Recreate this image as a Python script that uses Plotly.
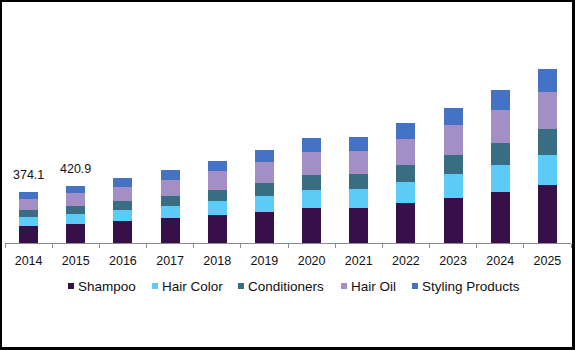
import plotly.graph_objects as go

years = ["2014", "2015", "2016", "2017", "2018", "2019", "2020", "2021", "2022", "2023", "2024", "2025"]
shampoo = [125, 142, 162, 184, 206, 228, 258, 258, 294, 331, 375, 427]
hair_color = [66, 71, 81, 88, 103, 118, 132, 140, 155, 177, 199, 221]
conditioners = [51, 59, 66, 74, 81, 96, 110, 110, 125, 140, 162, 191]
hair_oil = [81, 96, 103, 118, 140, 155, 169, 169, 191, 221, 243, 272]
styling = [51.1, 52.9, 66, 74, 74, 88, 103, 103, 118, 125, 147, 169]
labeled_years = ["2014", "2015"]

series_names = ["Shampoo", "Hair Color", "Conditioners", "Hair Oil", "Styling Products"]
series_values = [shampoo, hair_color, conditioners, hair_oil, styling]
colors = ["#37104a", "#5ccbf7", "#386d82", "#a38fc5", "#4472c4"]

W, H = 575, 350
L, R, T, B = 5, 4, 20, 107
pw, ph = W - L - R, H - T - B

def px(x):
    return (x - L) / pw

def py(y):
    return (H - B - y) / ph

FONT = "Liberation Sans, Arial"
fig = go.Figure()
for name, vals, col in zip(series_names, series_values, colors):
    fig.add_trace(go.Bar(x=years, y=vals, name=name, marker=dict(color=col, line=dict(width=0)),
                         showlegend=False))

totals = [sum(v) for v in zip(*series_values)]
annotations = []
for i, (yr, tot) in enumerate(zip(years, totals)):
    if yr in labeled_years:
        annotations.append(dict(xref="x", yref="y", x=i, y=tot, text=f"{tot:.1f}", showarrow=False,
                                yshift=17, font=dict(family=FONT, size=12.5, color="#111111")))

# manual legend
shapes = []
legend_x = [68, 152, 238, 341, 412]
legend_y = 286
for name, col, lx in zip(series_names, colors, legend_x):
    shapes.append(dict(type="rect", xref="paper", yref="paper", x0=px(lx), x1=px(lx + 6),
                       y0=py(legend_y + 3), y1=py(legend_y - 3), fillcolor=col, line=dict(width=0)))
    annotations.append(dict(xref="paper", yref="paper", x=px(lx + 8), y=py(legend_y), text=name,
                            showarrow=False, xanchor="left", yanchor="middle",
                            font=dict(family=FONT, size=13.5, color="#111111")))

# border frame
for x0, x1, y0, y1 in [(0, 2, 0, H), (W - 3, W, 0, H), (0, W, 0, 2), (0, W, H - 3, H)]:
    shapes.append(dict(type="rect", xref="paper", yref="paper", x0=px(x0), x1=px(x1),
                       y0=py(y1), y1=py(y0), fillcolor="black", line=dict(width=0), layer="above"))

fig.update_layout(
    width=W, height=H, margin=dict(l=L, r=R, t=T, b=B),
    barmode="stack", bargap=0.6,
    plot_bgcolor="white", paper_bgcolor="white",
    xaxis=dict(type="category", categoryorder="array", categoryarray=years,
               range=[-0.5, len(years) - 0.5], autorange=False,
               showgrid=False, showline=True, linecolor="#8c8c8c", linewidth=1,
               ticks="outside", tickson="boundaries", ticklen=4, tickcolor="#8c8c8c",
               tickfont=dict(family=FONT, size=12.5, color="#111111"),
               ticklabelstandoff=6, tickangle=0),
    yaxis=dict(range=[0, 1641], autorange=False, visible=False, showgrid=False),
    annotations=annotations, shapes=shapes,
)
fig.write_html("out.html")
